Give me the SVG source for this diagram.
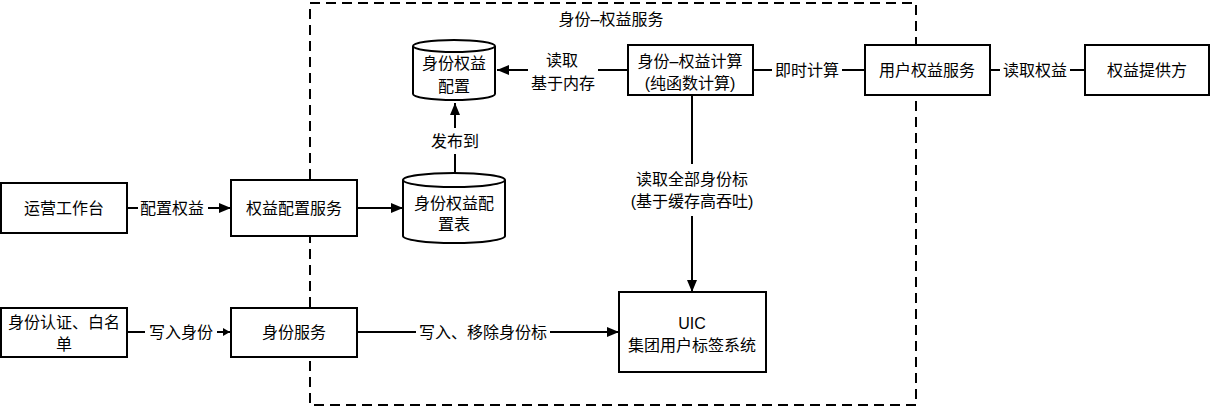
<svg xmlns="http://www.w3.org/2000/svg" width="1213" height="407" viewBox="0 0 1213 407">
<defs>
<style>
.box{fill:#fff;stroke:#000;stroke-width:2}
.ln{fill:none;stroke:#000;stroke-width:2}
.lbg{fill:#fff;stroke:none}
text{font-family:"Liberation Sans","Noto Sans CJK SC",sans-serif;font-size:16px;fill:#000;text-anchor:middle;dominant-baseline:central}
</style>
<marker id="ah" viewBox="0 0 12 10" refX="12" refY="5" markerWidth="12" markerHeight="10" markerUnits="userSpaceOnUse" orient="auto">
<path d="M0,0 L12,5 L0,10 Z" fill="#000"/>
</marker>
<marker id="ahs" viewBox="0 0 7 8" refX="7" refY="4" markerWidth="7" markerHeight="8" markerUnits="userSpaceOnUse" orient="auto">
<path d="M0,0 L7,4 L0,8 Z" fill="#000"/>
</marker>
</defs>
<rect width="1213" height="407" fill="#fff"/>

<g id="container">
<rect x="310" y="3" width="606" height="402" fill="none" stroke="#000" stroke-width="2" stroke-dasharray="10 6"/>
<text x="611" y="19">身份–权益服务</text>
</g>

<g id="connectors">
<line class="ln" x1="628" y1="70" x2="497" y2="70" marker-end="url(#ah)"/>
<rect class="lbg" x="528" y="48" width="70" height="48"/>
<text x="562" y="60">读取</text>
<text x="563" y="83">基于内存</text>

<line class="ln" x1="753" y1="70" x2="865" y2="70"/>
<rect class="lbg" x="772" y="60" width="70" height="20"/>
<text x="807" y="70">即时计算</text>

<line class="ln" x1="990" y1="70" x2="1085" y2="70"/>
<rect class="lbg" x="1000" y="60" width="70" height="20"/>
<text x="1035" y="70">读取权益</text>

<line class="ln" x1="692" y1="95" x2="692" y2="292" marker-end="url(#ah)"/>
<rect class="lbg" x="622" y="164" width="140" height="52"/>
<text x="692" y="179">读取全部身份标</text>
<text x="692" y="201">(基于缓存高吞吐)</text>

<line class="ln" x1="455" y1="174" x2="455" y2="103" marker-end="url(#ah)"/>
<rect class="lbg" x="425" y="128" width="60" height="26"/>
<text x="455" y="141">发布到</text>

<line class="ln" x1="127" y1="208" x2="231" y2="208" marker-end="url(#ah)"/>
<rect class="lbg" x="138" y="198" width="70" height="20"/>
<text x="172" y="208">配置权益</text>

<line class="ln" x1="357" y1="208" x2="403" y2="208" marker-end="url(#ah)"/>

<line class="ln" x1="127" y1="332" x2="230" y2="332" marker-end="url(#ahs)"/>
<rect class="lbg" x="145" y="322" width="72" height="20"/>
<text x="181" y="332">写入身份</text>

<line class="ln" x1="357" y1="332" x2="619" y2="332" marker-end="url(#ah)"/>
<rect class="lbg" x="416" y="322" width="134" height="20"/>
<text x="483" y="332">写入、移除身份标</text>
</g>

<g id="cyl-config">
<path class="box" d="M413,46 A41,6 0 0 1 495,46 V94 A41,6 0 0 1 413,94 Z"/>
<path class="ln" d="M413,46 A41,6 0 0 0 495,46"/>
<text x="454" y="63">身份权益</text>
<text x="454" y="86">配置</text>
</g>

<g id="calc">
<rect class="box" x="628" y="45" width="125" height="50"/>
<text x="690" y="61">身份–权益计算</text>
<text x="690" y="83">(纯函数计算)</text>
</g>

<g id="user-rights">
<rect class="box" x="865" y="45" width="125" height="50"/>
<text x="927" y="70">用户权益服务</text>
</g>

<g id="provider">
<rect class="box" x="1085" y="45" width="124" height="50"/>
<text x="1147" y="70">权益提供方</text>
</g>

<g id="ops">
<rect class="box" x="1" y="183" width="126" height="50"/>
<text x="64" y="208">运营工作台</text>
</g>

<g id="config-svc">
<rect class="box" x="231" y="180" width="126" height="56"/>
<text x="294" y="208">权益配置服务</text>
</g>

<g id="cyl-table">
<path class="box" d="M403,180 A51,7 0 0 1 505,180 V236 A51,7 0 0 1 403,236 Z"/>
<path class="ln" d="M403,180 A51,7 0 0 0 505,180"/>
<text x="454" y="203">身份权益配</text>
<text x="454" y="224">置表</text>
</g>

<g id="auth">
<rect class="box" x="1" y="308" width="126" height="49"/>
<text x="64" y="322">身份认证、白名</text>
<text x="64" y="344">单</text>
</g>

<g id="identity-svc">
<rect class="box" x="231" y="308" width="126" height="49"/>
<text x="294" y="332">身份服务</text>
</g>

<g id="uic">
<rect class="box" x="619" y="292" width="147" height="80"/>
<text x="692" y="323">UIC</text>
<text x="692" y="345">集团用户标签系统</text>
</g>
</svg>
